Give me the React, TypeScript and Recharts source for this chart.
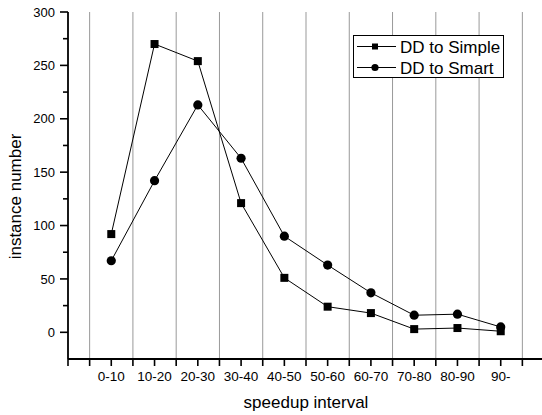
import React from 'react';
import { LineChart, Line, XAxis, YAxis, ReferenceLine, Legend } from 'recharts';

const categories = ['0-10', '10-20', '20-30', '30-40', '40-50', '50-60', '60-70', '70-80', '80-90', '90-'];
const simpleValues = [92, 270, 254, 121, 51, 24, 18, 3, 4, 1];
const smartValues = [67, 142, 213, 163, 90, 63, 37, 16, 17, 5];
const yTicks = [0, 25, 50, 75, 100, 125, 150, 175, 200, 225, 250, 275, 300];
const xTicks = [0, 0.5, 1, 1.5, 2, 2.5, 3, 3.5, 4, 4.5, 5, 5.5, 6, 6.5, 7, 7.5, 8, 8.5, 9, 9.5, 10, 10.5, 11];
const gridXs = [0.5, 1.5, 2.5, 3.5, 4.5, 5.5, 6.5, 7.5, 8.5, 9.5, 10.5];

const data = categories.map((c, i) => ({ x: i + 1, name: c, simple: simpleValues[i], smart: smartValues[i] }));

const FONT = '"Liberation Sans", Arial, Helvetica, sans-serif';

const SquareDot = (props: any) => {
  const { cx, cy, index } = props;
  if (cx == null || cy == null) return <g key={`s${index}`} />;
  return <rect key={`s${index}`} x={cx - 4} y={cy - 4} width={8} height={8} fill="#000" />;
};

const CircleDot = (props: any) => {
  const { cx, cy, index } = props;
  if (cx == null || cy == null) return <g key={`c${index}`} />;
  return <circle key={`c${index}`} cx={cx} cy={cy} r={4.6} fill="#000" />;
};

const YTick = (props: any) => {
  const { x, y, payload } = props;
  const major = payload.value % 50 === 0;
  return (
    <g>
      <line x1={x - (major ? 8 : 5)} x2={x} y1={y} y2={y} stroke="#000" strokeWidth={1.6} />
      {major && (
        <text x={x - 13} y={y} dy="0.36em" textAnchor="end" fontSize={13} fontFamily={FONT} fill="#000">
          {payload.value}
        </text>
      )}
    </g>
  );
};

const YLabel = (props: any) => {
  const vb = props.viewBox || { x: 8, y: 12, width: 60, height: 347 };
  const cx = vb.x + 13;
  const cy = vb.y + vb.height / 2 + 11;
  return (
    <text x={cx} y={cy} transform={`rotate(-90 ${cx} ${cy})`} textAnchor="middle" fontSize={17} fontFamily={FONT} fill="#000">
      instance number
    </text>
  );
};

const LegendBox = () => (
  <svg width={152} height={44} style={{ display: 'block' }}>
    <rect x={0.5} y={0.5} width={150} height={42} fill="#fff" stroke="#000" strokeWidth={1} />
    <line x1={4} x2={43} y1={11.5} y2={11.5} stroke="#000" strokeWidth={1} />
    <rect x={19} y={8.5} width={6} height={6} fill="#000" />
    <text x={47} y={11.5} dy="0.36em" fontSize={17} fontFamily={FONT} fill="#000">DD to Simple</text>
    <line x1={4} x2={43} y1={32.5} y2={32.5} stroke="#000" strokeWidth={1} />
    <circle cx={22} cy={32.5} r={3.6} fill="#000" />
    <text x={47} y={32.5} dy="0.36em" fontSize={17} fontFamily={FONT} fill="#000">DD to Smart</text>
  </svg>
);

export default function App() {
  return (
    <div style={{ position: 'absolute', left: 0, top: 0, width: 542, height: 415, overflow: 'hidden', background: '#fff' }}>
      <LineChart width={560} height={415} data={data} margin={{ top: 12, right: 16, bottom: 0, left: 8 }}>
        <XAxis
          type="number"
          dataKey="x"
          domain={[0, 11]}
          ticks={xTicks}
          interval={0}
          allowDataOverflow
          height={56}
          tickSize={7}
          tickMargin={5}
          stroke="#000"
          axisLine={{ stroke: '#000', strokeWidth: 1.8 }}
          tickLine={{ stroke: '#000', strokeWidth: 1.6 }}
          tick={{ fontSize: 13.5, fontFamily: FONT, fill: '#000' }}
          tickFormatter={(v: number) => (Number.isInteger(v) && v >= 1 && v <= 10 ? categories[v - 1] : '')}
          label={{ value: 'speedup interval', position: 'insideBottom', offset: 7, fontSize: 17, fontFamily: FONT, fill: '#000' }}
        />
        <YAxis
          type="number"
          domain={[-25, 300]}
          ticks={yTicks}
          interval={0}
          allowDataOverflow
          width={60}
          tickSize={0}
          tickMargin={0}
          tickLine={false}
          axisLine={{ stroke: '#000', strokeWidth: 1.8 }}
          tick={<YTick />}
          label={<YLabel />}
        />
        {gridXs.map((g) => (
          <ReferenceLine key={g} x={g} stroke="#999" strokeWidth={1} />
        ))}
        <Line type="linear" dataKey="simple" stroke="#000" strokeWidth={1} dot={<SquareDot />} activeDot={false} isAnimationActive={false} />
        <Line type="linear" dataKey="smart" stroke="#000" strokeWidth={1} dot={<CircleDot />} activeDot={false} isAnimationActive={false} />
        <Legend
          layout="vertical"
          align="center"
          verticalAlign="middle"
          content={<LegendBox />}
          wrapperStyle={{ left: 353, top: 35, width: 152, height: 44 }}
        />
      </LineChart>
    </div>
  );
}
